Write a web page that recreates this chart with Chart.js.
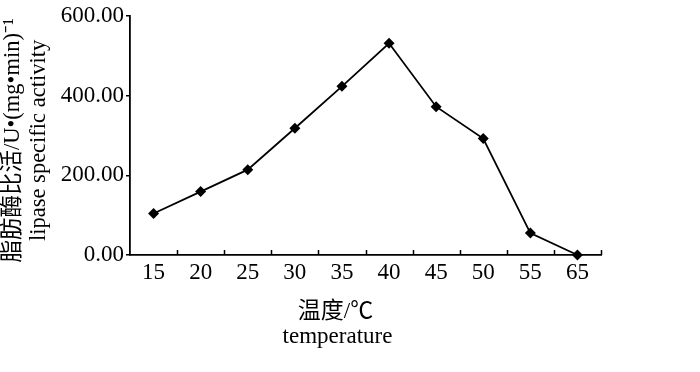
<!DOCTYPE html>
<html>
<head>
<meta charset="utf-8">
<script src="https://cdn.jsdelivr.net/npm/chart.js@4"></script>
<style>
  html, body { margin: 0; padding: 0; background: #fff; }
  #wrap { width: 700px; height: 372px; }
</style>
</head>
<body>
<div id="wrap"><canvas id="chart"></canvas></div>
<script>
// data
const temperatures = ['15', '20', '25', '30', '35', '40', '45', '50', '55', '65'];
const activity = [104, 159, 214, 318, 423, 531, 372, 292, 55, 0];
const yTicks = [0, 200, 400, 600];
const xTitle = ['温度/℃', 'temperature'];
const yTitle = ['脂肪酶比活/U•(mg•min)⁻¹', 'lipase specific activity'];

const serif = '"Liberation Serif", "Noto Sans CJK SC", serif';

// inward tick marks on the x axis, between categories, plus both axis titles
const axisDecor = {
    id: 'axisDecor',
    afterDraw(chart) {
        const x = chart.scales.x;
        const y = chart.scales.y;
        const ctx = chart.ctx;
        const n = temperatures.length;
        const step = (x.right - x.left) / n;
        ctx.save();
        ctx.strokeStyle = '#000';
        ctx.lineWidth = 1.5;
        ctx.beginPath();
        for (let i = 1; i <= n; i++) {
            const px = Math.round(x.left + i * step) + 0.5;
            ctx.moveTo(px, x.top);
            ctx.lineTo(px, x.top - 5);
        }
        ctx.stroke();

        ctx.fillStyle = '#000';
        ctx.textAlign = 'center';
        ctx.textBaseline = 'middle';
        ctx.font = '23px ' + serif;
        const cx = (x.left + x.right) / 2 - 30;
        ctx.fillText(xTitle[0], cx, x.top + 57);
        ctx.fillText(xTitle[1], cx + 2, x.top + 82);

        // rotated y title
        const cy = (y.top + y.bottom) / 2 + 5;
        ctx.translate(0, cy);
        ctx.rotate(-Math.PI / 2);
        ctx.font = '22.5px ' + serif;
        ctx.fillText(yTitle[0], 0, 13);
        ctx.fillText(yTitle[1], 0, 39);
        ctx.restore();
    }
};

new Chart(document.getElementById('chart'), {
    type: 'line',
    data: {
        labels: temperatures,
        datasets: [{
            data: activity,
            borderColor: '#000',
            backgroundColor: '#000',
            borderWidth: 1.8,
            pointStyle: 'rectRot',
            pointRadius: 5.5,
            pointBackgroundColor: '#000',
            pointBorderWidth: 0,
            tension: 0,
            clip: false
        }]
    },
    options: {
        responsive: true,
        maintainAspectRatio: false,
        animation: false,
        layout: { padding: { top: 7, right: 99, left: 0, bottom: 0 } },
        plugins: {
            legend: { display: false },
            tooltip: { enabled: false }
        },
        scales: {
            x: {
                type: 'category',
                offset: true,
                grid: { display: false, drawTicks: false, tickLength: 0 },
                border: { display: true, color: '#000', width: 1.8 },
                ticks: {
                    color: '#000',
                    padding: 4,
                    maxRotation: 0,
                    font: { family: serif, size: 23 }
                },
                afterFit(scale) { scale.height = 117; }
            },
            y: {
                min: 0,
                max: 600,
                afterBuildTicks(scale) {
                    scale.ticks = yTicks.map(v => ({ value: v }));
                },
                grid: {
                    drawOnChartArea: false,
                    drawTicks: true,
                    tickLength: 4,
                    color: '#000',
                    lineWidth: 1.5
                },
                border: { display: true, color: '#000', width: 1.8 },
                ticks: {
                    color: '#000',
                    padding: 2,
                    font: { family: serif, size: 23 },
                    callback: v => v.toFixed(2)
                },
                afterFit(scale) { scale.width = 130; }
            }
        }
    },
    plugins: [axisDecor]
});
</script>
</body>
</html>
